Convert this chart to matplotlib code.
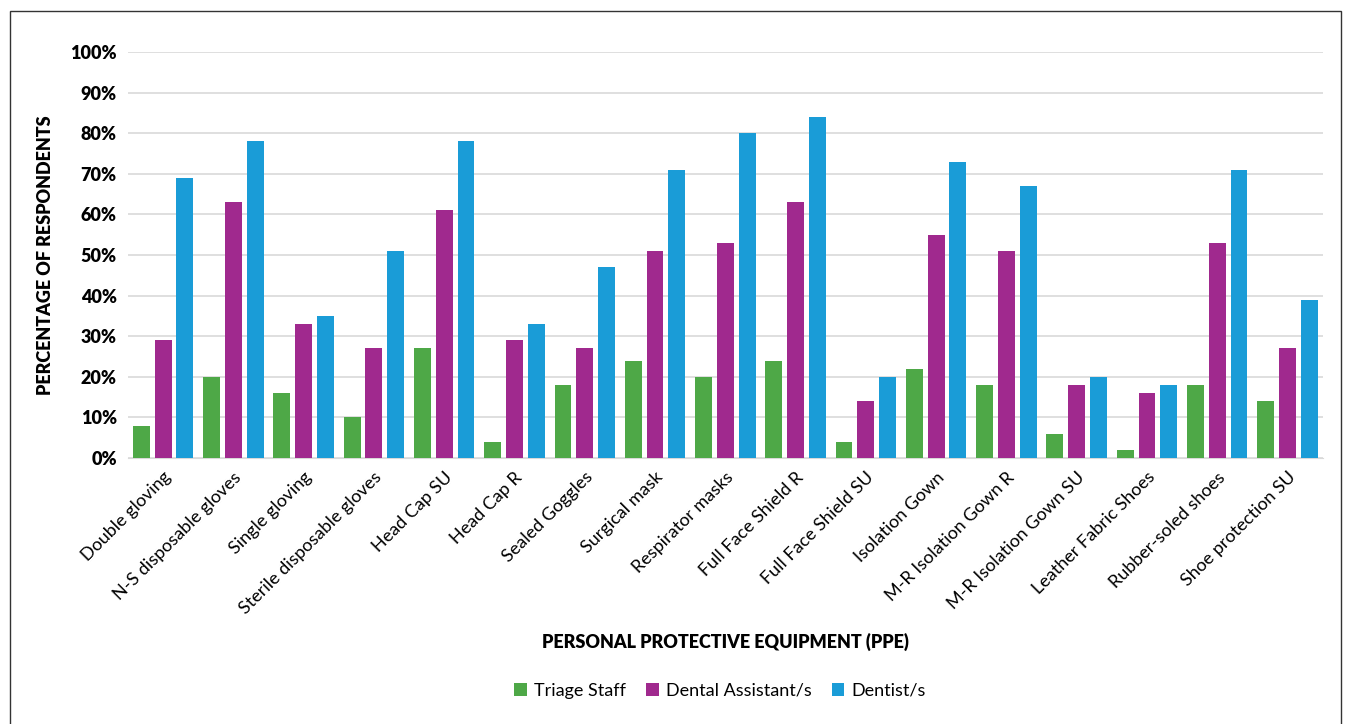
import matplotlib.pyplot as plt
import numpy as np

plt.rcParams['font.family'] = ['Lato', 'DejaVu Sans']

items = ["Double gloving", "N-S disposable gloves", "Single gloving",
         "Sterile disposable gloves", "Head Cap SU", "Head Cap R",
         "Sealed Goggles", "Surgical mask", "Respirator masks",
         "Full Face Shield R", "Full Face Shield SU", "Isolation Gown",
         "M-R Isolation Gown R", "M-R Isolation Gown SU",
         "Leather Fabric Shoes", "Rubber-soled shoes", "Shoe protection SU"]

triage = [8, 20, 16, 10, 27, 4, 18, 24, 20, 24, 4, 22, 18, 6, 2, 18, 14]
assistant = [29, 63, 33, 27, 61, 29, 27, 51, 53, 63, 14, 55, 51, 18, 16, 53, 27]
dentist = [69, 78, 35, 51, 78, 33, 47, 71, 80, 84, 20, 73, 67, 20, 18, 71, 39]

series = [("Triage Staff", triage, "#4EA847"),
          ("Dental Assistant/s", assistant, "#A0298E"),
          ("Dentist/s", dentist, "#1A9CD7")]

fig = plt.figure(figsize=(13.51, 7.24), dpi=100)
ax = fig.add_axes([0.0947, 0.3674, 0.8843, 0.5606])

x = np.arange(len(items))
w = 0.24
step = 0.31
for i, (name, vals, col) in enumerate(series):
    ax.bar(x + (i - 1) * step, np.array(vals) / 100, width=w, color=col,
           label=name, zorder=3)

ax.set_xlim(-0.5, len(items) - 0.5)
ax.set_ylim(0, 1)
ticks = np.arange(0, 1.01, 0.1)
ax.set_yticks(ticks)
ax.set_yticklabels([f"{int(round(v * 100))}%" for v in ticks],
                   fontsize=13, fontweight="heavy")
ax.set_xticks(x)
ax.set_xticklabels(items, rotation=45, ha="right", rotation_mode="anchor",
                   fontsize=13)
ax.tick_params(axis="y", length=0, pad=8)
ax.tick_params(axis="x", length=0, pad=8)
ax.grid(axis="y", color="#D9D9D9", linewidth=1.2, zorder=0)
for s in ["top", "right", "left"]:
    ax.spines[s].set_visible(False)
ax.spines["bottom"].set_color("#D9D9D9")

ax.set_ylabel("PERCENTAGE OF RESPONDENTS", fontsize=13, fontweight="heavy",
              labelpad=12)
fig.text(0.537, 0.105, "PERSONAL PROTECTIVE EQUIPMENT (PPE)", ha="center",
         fontsize=13, fontweight="heavy")

fig.legend(loc="center", bbox_to_anchor=(0.533, 0.046), ncol=3, frameon=False,
           fontsize=13, handlelength=0.7, handleheight=0.7, columnspacing=1.1,
           handletextpad=0.4)

fig.patches.append(plt.Rectangle((0.0075, -0.01), 0.985, 0.995,
                                 transform=fig.transFigure, fill=False,
                                 edgecolor="#333333", linewidth=1))

fig.savefig("out.png", dpi=100)
